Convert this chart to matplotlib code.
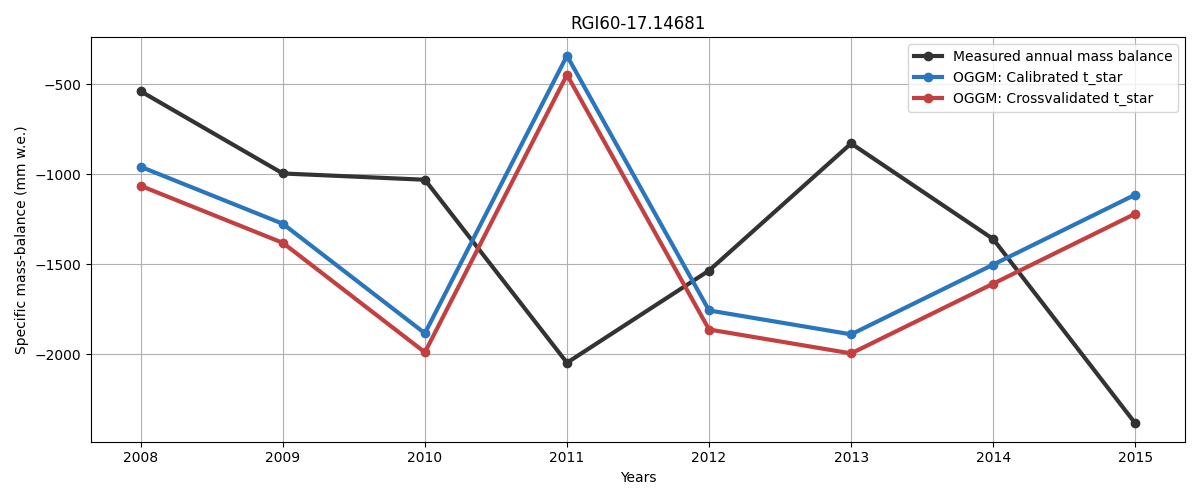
import matplotlib
matplotlib.use("Agg")
import matplotlib.pyplot as plt
from matplotlib.ticker import MultipleLocator

years = [2008, 2009, 2010, 2011, 2012, 2013, 2014, 2015]
measured = [-538, -995, -1030, -2048, -1535, -828, -1360, -2385]
calibrated = [-958, -1275, -1884, -340, -1757, -1890, -1502, -1113]
crossval = [-1064, -1381, -1990, -446, -1863, -1996, -1608, -1219]

fig, ax = plt.subplots(figsize=(12, 5), dpi=100)

ax.plot(years, measured, 'o-', color='#333333', lw=3, label='Measured annual mass balance')
ax.plot(years, calibrated, 'o-', color='#2a76be', lw=3, label='OGGM: Calibrated t_star')
ax.plot(years, crossval, 'o-', color='#c43f3f', lw=3, label='OGGM: Crossvalidated t_star')

ax.yaxis.set_major_locator(MultipleLocator(500))
ax.set_title('RGI60-17.14681')
ax.set_xlabel('Years')
ax.set_ylabel('Specific mass-balance (mm w.e.)')
ax.legend(loc='best')
ax.grid(True)

plt.tight_layout()
plt.savefig('out.png', dpi=100)
